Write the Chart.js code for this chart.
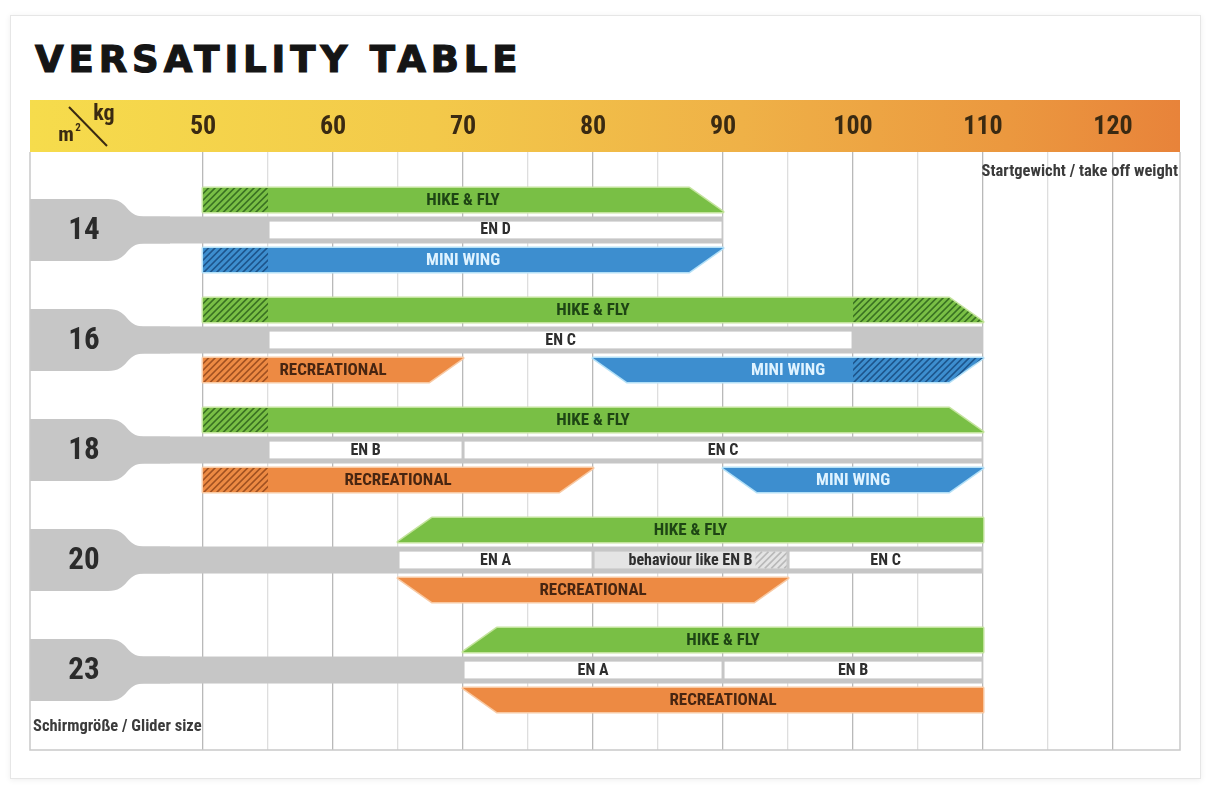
<!DOCTYPE html>
<html>
<head>
<meta charset="utf-8">
<script src="https://cdn.jsdelivr.net/npm/chart.js@4.4.1/dist/chart.umd.min.js"></script>
<style>
  html, body { margin: 0; padding: 0; background: #ffffff; }
  #wrap { position: relative; width: 1212px; height: 796px; overflow: hidden; background: #fff; }
  #card { position: absolute; left: 10px; top: 15px; width: 1189px; height: 762px;
          border: 1px solid #e6e6e6; box-shadow: 0 1px 6px rgba(0,0,0,0.07); background: #fff; }
  #title { position: absolute; left: 35px; top: 41px; margin: 0; font: bold 37px/37px "DejaVu Sans", sans-serif;
           letter-spacing: 4.9px; color: #151515; white-space: nowrap; -webkit-text-stroke: 1.2px #151515; }
  canvas { position: absolute; left: 0; top: 0; }
</style>
</head>
<body>
<div id="wrap">
  <div id="card"></div>
  <h1 id="title">VERSATILITY TABLE</h1>
  <canvas id="c" width="1212" height="796"></canvas>
</div>
<script>
// ---------------- data ----------------
const gliderSizes = ['14', '16', '18', '20', '23'];
const weightTicks = [50, 60, 70, 80, 90, 100, 110, 120];

// take-off weight ranges [from, to] per glider size (null = not offered)
const hikeFly      = [[50, 90], [50, 110], [50, 110], [65, 110], [70, 110]];
const miniWing     = [[50, 90], [80, 110], [90, 110], null, null];
const recreational = [null, [50, 70], [50, 80], [65, 95], [70, 110]];

// end of the certified weight range per size
const certRangeEnd = [90, 110, 110, 110, 110];

// certification classes: size, from, to, label
const enClasses = [
  ['14', 55, 90, 'EN D'],
  ['16', 55, 100, 'EN C'],
  ['18', 55, 70, 'EN B'],
  ['18', 70, 110, 'EN C'],
  ['20', 65, 80, 'EN A'],
  ['20', 80, 95, 'behaviour like EN B'],
  ['20', 95, 110, 'EN C'],
  ['23', 70, 90, 'EN A'],
  ['23', 90, 110, 'EN B']
];

// hatched (limited) parts of the ranges: series, size, from, to
const limitedRanges = [
  ['HIKE & FLY', '14', 50, 55],
  ['HIKE & FLY', '16', 50, 55],
  ['HIKE & FLY', '16', 100, 110],
  ['HIKE & FLY', '18', 50, 55],
  ['MINI WING', '14', 50, 55],
  ['MINI WING', '16', 100, 110],
  ['RECREATIONAL', '16', 50, 55],
  ['RECREATIONAL', '18', 50, 55],
  ['EN', '20', 92.5, 95]
];

// ---------------- fonts ----------------
const mctx = document.createElement('canvas').getContext('2d');
function measure(font, t) { mctx.font = font; return mctx.measureText(t).width; }
const TEST = 'HIKE & FLY 0123456789';
const baseW = measure('bold 30px "Liberation Sans", sans-serif', TEST);
const monoW = measure('bold 30px monospace', TEST);
const condFound = ['Liberation Sans Narrow', 'DejaVu Sans Condensed', 'Roboto Condensed', 'Arial Narrow', 'Nimbus Sans Narrow', 'Noto Sans Condensed']
  .find(f => { const w = measure(`bold 30px "${f}", monospace`, TEST); return w !== monoW && w < baseW * 0.92; });
const COND = condFound || 'Roboto';
const SQUEEZE = Math.min(1, 77 / measure(`bold 17px "${COND}", sans-serif`, 'HIKE & FLY'));

function txt(ctx, s, x, y, size, color, align = 'center') {
  ctx.save();
  ctx.font = `bold ${size}px "${COND}", sans-serif`;
  ctx.fillStyle = color;
  ctx.textBaseline = 'middle';
  ctx.textAlign = align;
  ctx.translate(x, y);
  ctx.scale(SQUEEZE, 1);
  ctx.fillText(s, 0, 0);
  ctx.restore();
}

// ---------------- datasets ----------------
const toPoints = arr => arr.map((r, i) => r ? { y: i, x: r } : null).filter(Boolean);
const sizeIdx = s => gliderSizes.indexOf(s);

const datasets = [
  { label: 'HIKE & FLY', kind: 'range', stack: 'top', data: toPoints(hikeFly),
    backgroundColor: '#79bf45', edgeColor: '#c3e39c', hatchColor: 'rgba(30,80,20,0.7)', textColor: '#1e4514',
    insetEdge: 'top', endCuts: { '14': [0, 1], '16': [0, 1], '18': [0, 1], '20': [1, 0], '23': [1, 0] },
    barPercentage: 0.8 },
  { label: 'stem', kind: 'stem', stack: 'mid', data: certRangeEnd.map((v, i) => ({ y: i, x: v })),
    backgroundColor: '#c6c6c6', barPercentage: 0.9 },
  { label: 'EN', kind: 'cert', stack: 'mid',
    data: enClasses.map(r => ({ y: sizeIdx(r[0]), x: [r[1], r[2]], text: r[3] })),
    backgroundColor: '#ffffff', altColor: '#e4e4e4', hatchColor: 'rgba(150,150,150,0.55)', textColor: '#2e2e2e',
    barPercentage: 0.56 },
  { label: 'MINI WING', kind: 'range', stack: 'bot', data: toPoints(miniWing),
    backgroundColor: '#3d8ecf', edgeColor: '#b3e0f7', hatchColor: 'rgba(15,60,110,0.7)', textColor: '#dff3ff',
    insetEdge: 'bottom', endCuts: { '14': [0, 1], '16': [1, 1], '18': [1, 1] },
    barPercentage: 0.8 },
  { label: 'RECREATIONAL', kind: 'range', stack: 'bot', data: toPoints(recreational),
    backgroundColor: '#ed8a43', edgeColor: '#f8c9a3', hatchColor: 'rgba(120,50,15,0.65)', textColor: '#472511',
    insetEdge: 'bottom', endCuts: { '16': [0, 1], '18': [0, 1], '20': [1, 1], '23': [1, 0] },
    barPercentage: 0.8 }
];
datasets.forEach(d => { d.categoryPercentage = 90 / 110; });

// ---------------- drawing helpers ----------------
const SLANT = 34;
function shapePath(ctx, l, r, t, b, cutL, cutR, inset) {
  const tl = (cutL && inset === 'top') ? l + SLANT : l;
  const bl = (cutL && inset === 'bottom') ? l + SLANT : l;
  const tr = (cutR && inset === 'top') ? r - SLANT : r;
  const br = (cutR && inset === 'bottom') ? r - SLANT : r;
  ctx.beginPath();
  ctx.moveTo(tl, t); ctx.lineTo(tr, t); ctx.lineTo(br, b); ctx.lineTo(bl, b); ctx.closePath();
}
function hatch(ctx, x0, x1, t, b, color) {
  ctx.save();
  ctx.beginPath(); ctx.rect(x0, t, x1 - x0, b - t); ctx.clip();
  ctx.strokeStyle = color; ctx.lineWidth = 1.6;
  ctx.beginPath();
  const h = b - t;
  for (let x = x0 - h; x < x1 + h; x += 6.5) { ctx.moveTo(x, b); ctx.lineTo(x + h, t); }
  ctx.stroke();
  ctx.restore();
}
function geom(el, area) {
  return { l: Math.max(area.left, Math.min(el.base, el.x)), r: Math.min(area.right, Math.max(el.base, el.x)),
           t: el.y - el.height / 2, b: el.y + el.height / 2, cy: el.y };
}

const shapesPlugin = {
  id: 'shapes',
  beforeDraw(chart) {
    const { ctx, chartArea: a, scales: { x } } = chart;
    const g = ctx.createLinearGradient(a.left, 0, a.right, 0);
    g.addColorStop(0, '#f6dc4c');
    g.addColorStop(0.35, '#f3c94a');
    g.addColorStop(0.62, '#efb147');
    g.addColorStop(0.85, '#eb983f');
    g.addColorStop(1, '#e8833a');
    ctx.save();
    ctx.fillStyle = g;
    ctx.fillRect(a.left, x.top, a.right - a.left, x.bottom - x.top);
    ctx.restore();
  },
  beforeDatasetDraw() { return false; },
  beforeDatasetsDraw(chart) {
    const { ctx, chartArea: a, scales: { x: xs } } = chart;
    const sets = chart.data.datasets.map((d, i) => [d, chart.getDatasetMeta(i)]);
    ctx.save();
    // stems + tabs with glider size
    sets.filter(([d]) => d.kind === 'stem').forEach(([d, meta]) => {
      const stemEls = [];
      meta.data.forEach((el, i) => {
        const g = geom(el, a);
        ctx.fillStyle = d.backgroundColor;
        ctx.fillRect(g.l, g.t, g.r - g.l, g.b - g.t);
        stemEls[d.data[i].y] = g;
      });
      gliderSizes.forEach((s, i) => {
        const g = stemEls[i]; if (!g) return;
        const L = a.left, T = g.cy - 31, B = g.cy + 31;
        ctx.fillStyle = d.backgroundColor;
        ctx.beginPath();
        ctx.moveTo(L, T);
        ctx.lineTo(L + 78, T);
        ctx.bezierCurveTo(L + 99, T, L + 95, g.t, L + 114, g.t);
        ctx.lineTo(L + 140, g.t); ctx.lineTo(L + 140, g.b); ctx.lineTo(L + 114, g.b);
        ctx.bezierCurveTo(L + 95, g.b, L + 99, B, L + 78, B);
        ctx.lineTo(L, B); ctx.closePath(); ctx.fill();
        txt(ctx, s, L + 54, g.cy + 1, 31, '#2b2b2b');
      });
    });
    // certification boxes
    sets.filter(([d]) => d.kind === 'cert').forEach(([d, meta]) => {
      meta.data.forEach((el, i) => {
        const g = geom(el, a), p = d.data[i];
        const l = g.l + 1.5, r = g.r - 1.5;
        ctx.fillStyle = /behaviour/.test(p.text) ? d.altColor : d.backgroundColor;
        ctx.fillRect(l, g.t, r - l, g.b - g.t);
        limitedRanges.filter(lr => lr[0] === d.label && lr[1] === gliderSizes[p.y]).forEach(lr => {
          const h0 = Math.max(l, xs.getPixelForValue(lr[2])), h1 = Math.min(r, xs.getPixelForValue(lr[3]));
          if (h1 > h0) hatch(ctx, h0, h1, g.t, g.b, d.hatchColor);
        });
        txt(ctx, p.text, (g.l + g.r) / 2, g.cy + 0.5, 16, d.textColor);
      });
    });
    // weight range bars
    sets.filter(([d]) => d.kind === 'range').forEach(([d, meta]) => {
      meta.data.forEach((el, i) => {
        const g = geom(el, a), p = d.data[i], size = gliderSizes[p.y];
        const cuts = d.endCuts[size] || [0, 0];
        shapePath(ctx, g.l, g.r, g.t, g.b, cuts[0], cuts[1], d.insetEdge);
        ctx.strokeStyle = d.edgeColor; ctx.lineWidth = 3; ctx.lineJoin = 'round'; ctx.stroke();
        ctx.fillStyle = d.backgroundColor; ctx.fill();
        ctx.save();
        shapePath(ctx, g.l, g.r, g.t, g.b, cuts[0], cuts[1], d.insetEdge);
        ctx.clip();
        limitedRanges.filter(lr => lr[0] === d.label && lr[1] === size).forEach(lr => {
          hatch(ctx, xs.getPixelForValue(lr[2]), xs.getPixelForValue(lr[3]), g.t - 1, g.b + 1, d.hatchColor);
        });
        ctx.restore();
        txt(ctx, d.label, (g.l + g.r) / 2, g.cy + 0.5, 17, d.textColor);
      });
    });
    ctx.restore();
  },
  afterDraw(chart) {
    const { ctx, chartArea: a } = chart;
    ctx.save();
    ctx.strokeStyle = '#c9c9c9'; ctx.lineWidth = 1.5;
    ctx.beginPath();
    ctx.moveTo(a.left, a.top); ctx.lineTo(a.left, a.bottom); ctx.lineTo(a.right, a.bottom); ctx.lineTo(a.right, a.top);
    ctx.stroke();
    ctx.strokeStyle = '#3a2a12'; ctx.lineWidth = 2;
    ctx.beginPath(); ctx.moveTo(a.left + 39, 107); ctx.lineTo(a.left + 77, 146); ctx.stroke();
    txt(ctx, 'kg', a.left + 74, 114, 22, '#3a2a12');
    txt(ctx, 'm', a.left + 36, 136, 21, '#3a2a12');
    txt(ctx, '2', a.left + 48, 128, 11, '#3a2a12');
    txt(ctx, 'Startgewicht / take off weight', a.right - 2, 172, 16.5, '#3b3b3b', 'right');
    txt(ctx, 'Schirmgröße / Glider size', a.left + 3, 727, 16.5, '#3b3b3b', 'left');
    ctx.restore();
  }
};

// ---------------- chart ----------------
new Chart(document.getElementById('c'), {
  type: 'bar',
  data: { labels: gliderSizes, datasets },
  plugins: [shapesPlugin],
  options: {
    indexAxis: 'y',
    responsive: false,
    animation: false,
    events: [],
    layout: { padding: { left: 30, right: 32, top: 100, bottom: 46 } },
    plugins: { legend: { display: false }, tooltip: { enabled: false }, title: { display: false } },
    scales: {
      x: {
        type: 'linear', position: 'top', stacked: false,
        min: 36.69, max: 125.15,
        afterFit: s => { s.height = 52; },
        border: { display: false },
        grid: {
          drawTicks: false,
          color: c => {
            const v = c.tick.value;
            if (v >= 50 && v <= 120 && v % 5 === 0) return v % 10 === 0 ? '#b9b9b9' : '#dedede';
            return 'rgba(0,0,0,0)';
          },
          lineWidth: 1.3
        },
        ticks: {
          stepSize: 5, autoSkip: false, maxRotation: 0, minRotation: 0, padding: 9,
          color: '#3a2a12',
          font: { family: `"${COND}", Roboto, sans-serif`, size: 26, weight: 'bold' },
          callback: v => weightTicks.includes(v) ? String(v) : ''
        }
      },
      y: {
        type: 'linear', display: false, reverse: true, offset: false,
        min: -0.709, max: 4.727,
        ticks: { stepSize: 1, includeBounds: false }
      }
    }
  }
});
</script>
</body>
</html>
